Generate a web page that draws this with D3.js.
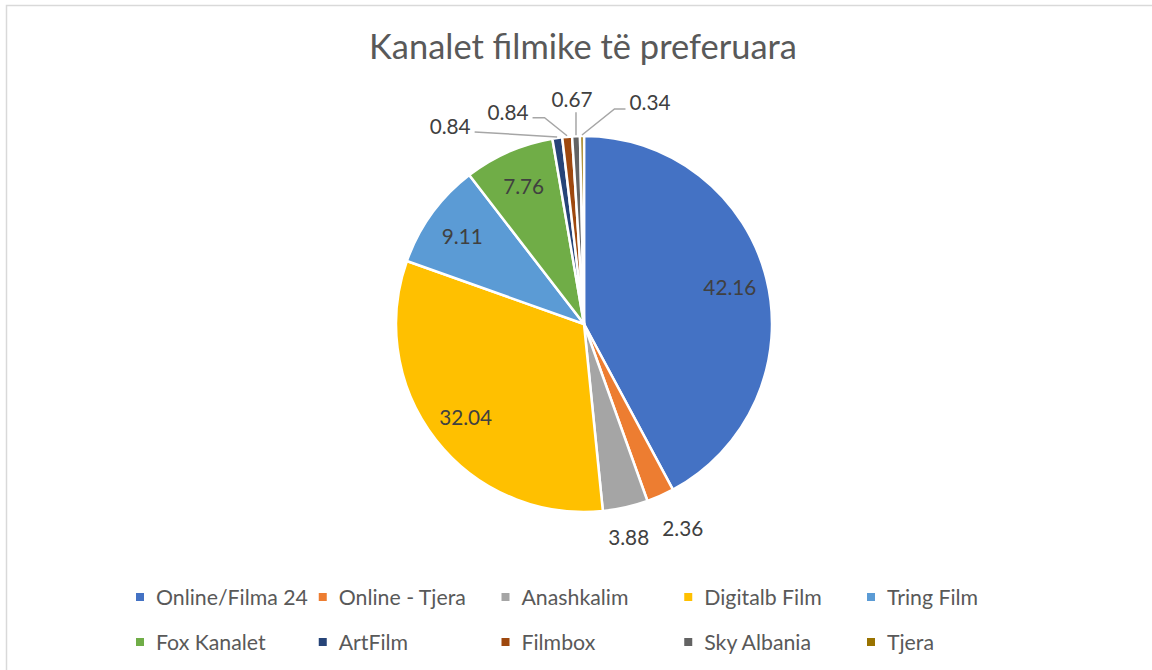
<!DOCTYPE html>
<html>
<head>
<meta charset="utf-8">
<script src="https://cdnjs.cloudflare.com/ajax/libs/d3/7.8.5/d3.min.js"></script>
<style>
body {
    margin: 0;
    background: #fff;
}
#canvas {
    display: block;
    font-family: Lato, "Open Sans", sans-serif;
}
</style>
</head>
<body>
<svg id="canvas" width="1152" height="670"></svg>
<script>
var title = "Kanalet filmike të preferuara";
var categories = ["Online/Filma 24", "Online - Tjera", "Anashkalim", "Digitalb Film", "Tring Film",
                  "Fox Kanalet", "ArtFilm", "Filmbox", "Sky Albania", "Tjera"];
var values = [42.16, 2.36, 3.88, 32.04, 9.11, 7.76, 0.84, 0.84, 0.67, 0.34];
var colors = ["#4472C4", "#ED7D31", "#A5A5A5", "#FFC000", "#5B9BD5",
              "#70AD47", "#264478", "#9E480E", "#636363", "#997300"];

// how each data label is placed: inside, outside, or pulled out with a leader line
var labelMode = ["in", "out", "out", "in", "in", "in", "lead", "lead", "lead", "lead"];
// pixel offsets of the outside labels from the slice edge (layout only)
var labelOffset = {1: [22, 31], 2: [3, 29], 6: [-107, -11], 7: [-59, -24], 8: [-4, -36], 9: [68, -33]};

var svg = d3.select("#canvas");
var cx = 584, cy = 324, r = 188;

// pick a font size so a string gets the wanted width
function fitSize(text, width) {
    var t = svg.append("text").attr("font-size", 20).text(text);
    var len = t.node().getComputedTextLength();
    t.remove();
    return 20 * width / len;
}

// frame
svg.append("rect")
    .attr("x", 6.5).attr("y", 5.5)
    .attr("width", 1160).attr("height", 680)
    .attr("fill", "none")
    .attr("stroke", "#d9d9d9")
    .attr("stroke-width", 1.5);

// title
svg.append("text")
    .attr("x", 583).attr("y", 59)
    .attr("text-anchor", "middle")
    .attr("font-size", fitSize(title, 428))
    .attr("fill", "#595959")
    .text(title);

var pie = d3.pie().sort(null).value(function(d) { return d; });
var arcs = pie(values);
var arc = d3.arc().innerRadius(0).outerRadius(r);

var g = svg.append("g").attr("transform", "translate(" + cx + "," + cy + ")");

g.selectAll("path.slice")
    .data(arcs)
    .enter().append("path")
    .attr("class", "slice")
    .attr("d", arc)
    .attr("fill", function(d, i) { return colors[i]; })
    .attr("stroke", "#fff")
    .attr("stroke-width", 2.5)
    .attr("stroke-linejoin", "round");

var labelSize = fitSize("2.36", 41);
var labelW = 41;
var inArc = d3.arc().innerRadius(r * 0.8).outerRadius(r * 0.8);
var edgeArc = d3.arc().innerRadius(r + 1).outerRadius(r + 1);

arcs.forEach(function(d, i) {
    var mode = labelMode[i];
    var txt = String(values[i]);
    var pos;
    if (mode === "in") {
        pos = inArc.centroid(d);
    } else {
        var e = edgeArc.centroid(d);
        var off = labelOffset[i];
        pos = [e[0] + off[0], e[1] + off[1]];
    }
    if (mode === "lead") {
        var pts;
        if (off[0] < -20) {
            var end = [pos[0] + labelW / 2 + 4, pos[1] + 6];
            pts = off[1] < -15 ? [e, [end[0] + 12, end[1]], end] : [e, end];
        } else if (off[0] > 20) {
            var end2 = [pos[0] - labelW / 2 - 4, pos[1] + 7];
            pts = [e, [end2[0] - 11, end2[1]], end2];
        } else {
            pts = [e, [e[0], pos[1] + 13]];
        }
        g.append("path")
            .attr("d", d3.line()(pts))
            .attr("fill", "none")
            .attr("stroke", "#a6a6a6")
            .attr("stroke-width", 1.5);
    }
    g.append("text")
        .attr("x", pos[0]).attr("y", pos[1])
        .attr("text-anchor", "middle")
        .attr("dominant-baseline", "central")
        .attr("font-size", labelSize)
        .attr("fill", "#404040")
        .text(txt);
});

// legend: two rows of five
var legendSize = fitSize("Online/Filma 24", 152);
var colX = d3.scalePoint().domain(d3.range(5)).range([140, 871]);
var rowY = [597, 642];

var items = svg.selectAll("g.legend")
    .data(categories)
    .enter().append("g")
    .attr("class", "legend")
    .attr("transform", function(d, i) {
        return "translate(" + colX(i % 5) + "," + rowY[Math.floor(i / 5)] + ")";
    });

items.append("rect")
    .attr("x", -4).attr("y", -4)
    .attr("width", 8).attr("height", 8)
    .attr("fill", function(d, i) { return colors[i]; });

items.append("text")
    .attr("x", 16).attr("y", 0)
    .attr("dominant-baseline", "central")
    .attr("font-size", legendSize)
    .attr("fill", "#595959")
    .text(function(d) { return d; });
</script>
</body>
</html>
